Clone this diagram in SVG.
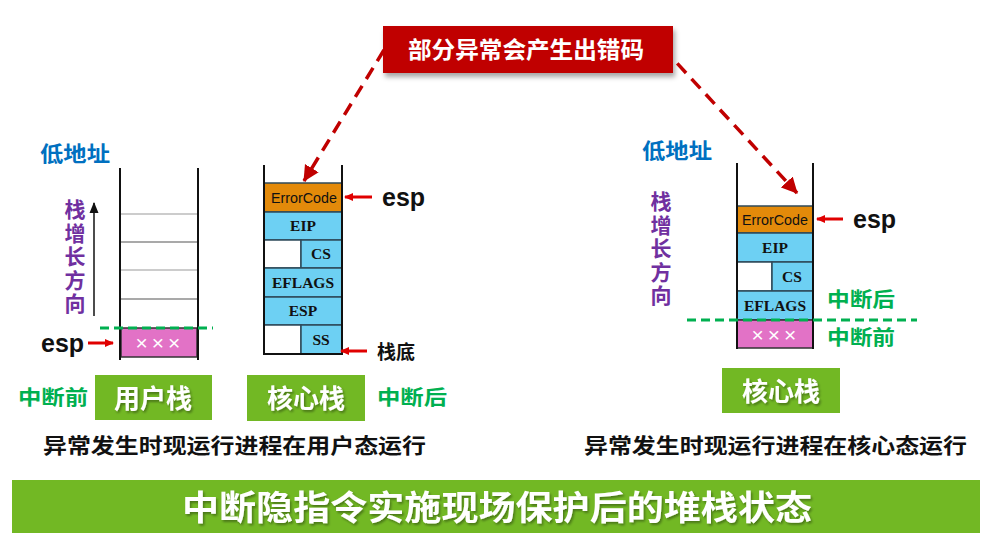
<svg xmlns="http://www.w3.org/2000/svg" width="986" height="537" viewBox="0 0 986 537">
<defs>
<style>
.cjk{font-family:"Noto Sans CJK SC","Liberation Sans",sans-serif;font-weight:bold}
.lat{font-family:"Liberation Sans","Noto Sans CJK SC",sans-serif;font-weight:bold}
.tms{font-family:"Liberation Serif",serif;font-weight:bold;font-size:15.5px;fill:#111}
.ec{font-family:"Liberation Sans",sans-serif;font-size:15px;fill:#111}
.vt{font-family:"Noto Sans CJK SC","Liberation Sans",sans-serif;font-weight:bold;font-size:21px;fill:#7030A0;writing-mode:vertical-rl;letter-spacing:2.5px}
.wall{stroke:#111;stroke-width:2;fill:none}
.blue{fill:#6DD0F3;stroke:#2E4A5A;stroke-width:1.5}
.org{fill:#E38A0A;stroke:#2E4A5A;stroke-width:1.5}
.pink{fill:#E272C6;stroke:#333;stroke-width:1.5}
.wcell{fill:#fff;stroke:#2E4A5A;stroke-width:1.5}
.gline{stroke:#00B050;stroke-width:3;stroke-dasharray:9,5;fill:none}
.redar{stroke:#E00000;stroke-width:3;fill:none}
.gbox{fill:#72B824}
.ddash{stroke:#C00000;stroke-width:3.5;stroke-dasharray:13,8;fill:none}
.xxx{fill:#fff;font-family:"Liberation Sans",sans-serif;font-size:21px}
</style>
<marker id="rh" markerWidth="10" markerHeight="10" refX="8" refY="5" orient="auto" markerUnits="userSpaceOnUse">
<path d="M0,1 L9,5 L0,9 Z" fill="#E00000"/>
</marker>
<marker id="dh" markerWidth="18" markerHeight="18" refX="15" refY="9" orient="auto" markerUnits="userSpaceOnUse">
<path d="M0,1 L16,9 L0,17 Z" fill="#C00000"/>
</marker>
<marker id="bh" markerWidth="12" markerHeight="10" refX="10" refY="5" orient="auto" markerUnits="userSpaceOnUse">
<path d="M0,0.5 L11,5 L0,9.5 Z" fill="#111"/>
</marker>
<filter id="sh" x="-5%" y="-20%" width="115%" height="160%">
<feDropShadow dx="2" dy="4" stdDeviation="2.5" flood-color="#000" flood-opacity="0.35"/>
</filter>
<filter id="ts" x="-5%" y="-20%" width="115%" height="160%">
<feDropShadow dx="1.5" dy="2" stdDeviation="1.2" flood-color="#000" flood-opacity="0.35"/>
</filter>
</defs>
<rect width="986" height="537" fill="#fff"/>

<g id="title-box">
<rect x="383" y="26" width="290" height="47" fill="#C00000" filter="url(#sh)"/>
<text class="cjk" x="526" y="58" font-size="23" fill="#fff" text-anchor="middle" textLength="236" lengthAdjust="spacingAndGlyphs">部分异常会产生出错码</text>
</g>

<g id="connectors">
<line class="ddash" x1="384" y1="50" x2="304" y2="181" marker-end="url(#dh)"/>
<line class="ddash" x1="663" y1="48" x2="797" y2="193" marker-end="url(#dh)"/>
</g>

<g id="user-stack">
<text class="cjk" x="40" y="161" font-size="21" fill="#0070C0" textLength="70" lengthAdjust="spacingAndGlyphs">低地址</text>
<text class="vt" x="75" y="199">栈增长方向</text>
<line x1="94" y1="316" x2="94" y2="203" stroke="#111" stroke-width="1.5" marker-end="url(#bh)"/>
<g stroke="#999" stroke-width="1">
<line x1="121" y1="214" x2="197" y2="214"/>
<line x1="121" y1="270" x2="197" y2="270"/>
</g>
<g stroke="#555" stroke-width="1.2">
<line x1="121" y1="242" x2="197" y2="242"/>
<line x1="121" y1="299" x2="197" y2="299"/>
</g>
<rect class="pink" x="121" y="328" width="76" height="29"/>
<text class="xxx" x="160" y="350" text-anchor="middle" letter-spacing="4">×××</text>
<line class="wall" x1="120" y1="168" x2="120" y2="360"/>
<line class="wall" x1="198" y1="168" x2="198" y2="360"/>
<line class="gline" x1="100" y1="328" x2="213" y2="328"/>
<text class="lat" x="41" y="352" font-size="25" fill="#111">esp</text>
<line class="redar" x1="88" y1="343" x2="113" y2="343" marker-end="url(#rh)"/>
<text class="cjk" x="18" y="405" font-size="20" fill="#00B050" textLength="70" lengthAdjust="spacingAndGlyphs">中断前</text>
<rect class="gbox" x="95" y="375" width="117" height="45"/>
<text class="cjk" x="153" y="408" font-size="26" fill="#fff" text-anchor="middle" filter="url(#ts)">用户栈</text>
</g>

<g id="kernel-stack-1">
<rect class="org" x="264" y="183" width="78" height="29"/>
<text class="ec" x="271" y="203" textLength="66" lengthAdjust="spacingAndGlyphs">ErrorCode</text>
<rect class="blue" x="264" y="212" width="78" height="28"/>
<text class="tms" x="303" y="231" text-anchor="middle">EIP</text>
<rect class="wcell" x="264" y="240" width="37" height="28"/>
<rect class="blue" x="301" y="240" width="41" height="28"/>
<text class="tms" x="321" y="259" text-anchor="middle">CS</text>
<rect class="blue" x="264" y="268" width="78" height="29"/>
<text class="tms" x="303" y="288" text-anchor="middle">EFLAGS</text>
<rect class="blue" x="264" y="297" width="78" height="28"/>
<text class="tms" x="303" y="316" text-anchor="middle">ESP</text>
<rect class="wcell" x="264" y="325" width="37" height="29"/>
<rect class="blue" x="301" y="325" width="41" height="29"/>
<text class="tms" x="321" y="345" text-anchor="middle">SS</text>
<line class="wall" x1="264" y1="165" x2="264" y2="355"/>
<line class="wall" x1="342" y1="165" x2="342" y2="355"/>
<line class="wall" x1="263" y1="354" x2="343" y2="354"/>
<line class="redar" x1="372" y1="197" x2="345" y2="197" marker-end="url(#rh)"/>
<text class="lat" x="382" y="206" font-size="25" fill="#111">esp</text>
<line class="redar" x1="367" y1="351" x2="341" y2="351" marker-end="url(#rh)"/>
<text class="cjk" x="377" y="359" font-size="19" fill="#111">栈底</text>
<rect class="gbox" x="247" y="375" width="118" height="46"/>
<text class="cjk" x="306" y="408" font-size="26" fill="#fff" text-anchor="middle" filter="url(#ts)">核心栈</text>
<text class="cjk" x="377" y="405" font-size="20" fill="#00B050" textLength="70" lengthAdjust="spacingAndGlyphs">中断后</text>
</g>

<g id="kernel-stack-2">
<text class="cjk" x="642" y="158" font-size="21" fill="#0070C0" textLength="70" lengthAdjust="spacingAndGlyphs">低地址</text>
<text class="vt" x="661" y="191">栈增长方向</text>
<rect class="org" x="737" y="206" width="76" height="27"/>
<text class="ec" x="742" y="225" textLength="66" lengthAdjust="spacingAndGlyphs">ErrorCode</text>
<rect class="blue" x="737" y="233" width="76" height="29"/>
<text class="tms" x="775" y="253" text-anchor="middle">EIP</text>
<rect class="wcell" x="737" y="262" width="35" height="29"/>
<rect class="blue" x="772" y="262" width="41" height="29"/>
<text class="tms" x="792" y="282" text-anchor="middle">CS</text>
<rect class="blue" x="737" y="291" width="76" height="29"/>
<text class="tms" x="775" y="311" text-anchor="middle">EFLAGS</text>
<rect class="pink" x="737" y="320" width="76" height="28"/>
<text class="xxx" x="776" y="342" text-anchor="middle" letter-spacing="4">×××</text>
<line class="wall" x1="737" y1="163" x2="737" y2="349"/>
<line class="wall" x1="813" y1="163" x2="813" y2="349"/>
<line class="gline" x1="687" y1="320" x2="917" y2="320"/>
<line class="redar" x1="843" y1="219" x2="817" y2="219" marker-end="url(#rh)"/>
<text class="lat" x="853" y="228" font-size="25" fill="#111">esp</text>
<text class="cjk" x="827" y="307" font-size="20" fill="#00B050" textLength="68" lengthAdjust="spacingAndGlyphs">中断后</text>
<text class="cjk" x="827" y="345" font-size="20" fill="#00B050" textLength="68" lengthAdjust="spacingAndGlyphs">中断前</text>
<rect class="gbox" x="722" y="368" width="118" height="45"/>
<text class="cjk" x="781" y="401" font-size="26" fill="#fff" text-anchor="middle" filter="url(#ts)">核心栈</text>
</g>

<g id="captions">
<text class="cjk" x="43" y="453" font-size="21" fill="#111" textLength="383" lengthAdjust="spacingAndGlyphs">异常发生时现运行进程在用户态运行</text>
<text class="cjk" x="584" y="453" font-size="21" fill="#111" textLength="383" lengthAdjust="spacingAndGlyphs">异常发生时现运行进程在核心态运行</text>
</g>

<g id="footer">
<rect x="12" y="480" width="968" height="53" fill="#72B824"/>
<text class="cjk" x="497" y="520" font-size="34" fill="#fff" text-anchor="middle" textLength="630" lengthAdjust="spacingAndGlyphs" filter="url(#ts)">中断隐指令实施现场保护后的堆栈状态</text>
</g>
</svg>
